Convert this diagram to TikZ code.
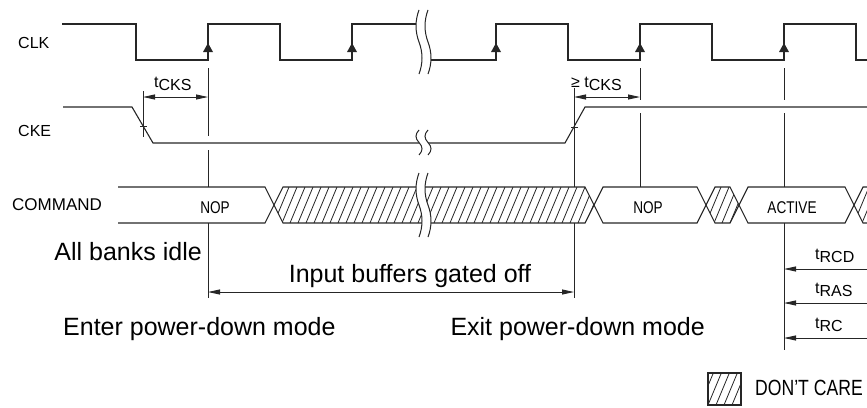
\documentclass[tikz,border=0pt]{standalone}
\usepackage{fontspec}
\setmainfont{Liberation Sans}
\newfontfamily\narrowsans[FakeStretch=0.8]{Liberation Sans}
\usetikzlibrary{arrows.meta}
\newcommand{\tpar}[1]{t\raisebox{-3pt}{#1}}

\begin{document}
\begin{tikzpicture}[x=1pt,y=-1pt,line join=miter,>={Triangle[length=12pt,width=5pt]},
  signal/.style={line width=1.1pt,color=black!85},
  guide/.style={line width=1pt,color=black!85},
  dimline/.style={line width=0.9pt,color=black!85},
  hatch/.style={line width=0.8pt,color=black!85},
  hatched/.style={path picture={
    \foreach \i in {-40,-32,...,340}
      \draw[hatch] ([xshift=\i pt]path picture bounding box.south west) -- ++(15,-36);}},
  siglabel/.style={inner sep=0pt,anchor=base west,font=\fontsize{16}{18}\selectfont},
  bustext/.style={inner sep=0pt,anchor=base,font=\narrowsans\fontsize{17}{19}\selectfont},
  tlabel/.style={inner sep=0pt,anchor=base west,font=\fontsize{16}{18}\selectfont},
  bigtext/.style={inner sep=0pt,font=\fontsize{25}{28}\selectfont}]
\useasboundingbox (0,0) rectangle (867,407);
% signal names
\node[siglabel] (clk) at (18,48) {CLK};
\node[siglabel] (cke) at (18,136) {CKE};
\node[siglabel,font=\fontsize{17}{19}\selectfont] (cmd) at (12,210) {COMMAND};
% clock
\draw[signal] (62,24) -- (136,24) -- (136,60) -- (208,60) -- (208,24) -- (280,24) -- (280,60) -- (352,60) -- (352,24) -- (424,24);
\draw[signal] (423,60) -- (496,60) -- (496,24) -- (568,24) -- (568,60) -- (640,60) -- (640,24) -- (712,24) -- (712,60) -- (784,60) -- (784,24) -- (856,24) -- (856,60) -- (867,60);
\foreach \x in {208,352,496,640,784}
  \fill[black!85] ({\x-5},52) -- ({\x+5},52) -- (\x,43) -- cycle;
% clock enable
\draw[signal] (63,107) -- (132,107) -- (153,143) -- (565,143) -- (585,107) -- (867,107);
\draw[guide] (140,126) -- (147,126);
\draw[guide] (571,127) -- (578,127);
% command bus
\draw[signal] (118,187) -- (265,187) -- (274,205) -- (265,223) -- (118,223);
\draw[signal,hatched] (274,205) -- (283,187) -- (585,187) -- (594,205) -- (585,223) -- (283,223) -- cycle;
\draw[signal] (594,205) -- (603,187) -- (697,187) -- (706,205) -- (697,223) -- (603,223) -- cycle;
\draw[signal,hatched] (706,205) -- (715,187) -- (730,187) -- (739,205) -- (730,223) -- (715,223) -- cycle;
\draw[signal] (739,205) -- (748,187) -- (845,187) -- (854,205) -- (845,223) -- (748,223) -- cycle;
\path[hatched] (854,205) -- (863,187) -- (867,187) -- (867,223) -- (863,223) -- cycle;
\draw[signal] (867,187) -- (863,187) -- (854,205) -- (863,223) -- (867,223);
\node[bustext] (nop1) at (215,213) {NOP};
\node[bustext] (nop2) at (648,213) {NOP};
\node[bustext] (act) at (792,213) {ACTIVE};
% breaks
\foreach \yt/\h in {10/64,130/25,173/64} {
  \fill[white] (419,\yt) .. controls (415,{\yt+\h/6}) and (415,{\yt+\h/3}) .. (419,{\yt+\h/2}) .. controls (423,{\yt+2*\h/3}) and (423,{\yt+5*\h/6}) .. (419,{\yt+\h}) -- (428,{\yt+\h}) .. controls (432,{\yt+5*\h/6}) and (432,{\yt+2*\h/3}) .. (428,{\yt+\h/2}) .. controls (424,{\yt+\h/3}) and (424,{\yt+\h/6}) .. (428,\yt) -- cycle;
  \foreach \xb in {419,428}
    \draw[guide] (\xb,\yt) .. controls ({\xb-4},{\yt+\h/6}) and ({\xb-4},{\yt+\h/3}) .. (\xb,{\yt+\h/2}) .. controls ({\xb+4},{\yt+2*\h/3}) and ({\xb+4},{\yt+5*\h/6}) .. (\xb,{\yt+\h});
}
% reference lines
\draw[guide] (143,91) -- (143,137);
\draw[guide] (208,68) -- (208,136) (208,150) -- (208,187) (208,223) -- (208,298);
\draw[guide] (574,88) -- (574,187) (574,223) -- (574,298);
\draw[guide] (640,68) -- (640,100) (640,113) -- (640,187);
\draw[guide] (784,68) -- (784,100) (784,113) -- (784,187) (784,223) -- (784,350);
% timing
\coordinate (cksa) at (143,97);
\coordinate (cksb) at (208,97);
\coordinate (cksc) at (574,97);
\coordinate (cksd) at (640,97);
\coordinate (offa) at (208,292);
\coordinate (offb) at (574,292);
\draw[<->,dimline] (cksa) -- (cksb);
\draw[<->,dimline] (cksc) -- (cksd);
\draw[<->,dimline] (offa) -- (offb);
\node[tlabel] (tcks) at (154,87) {\tpar{CKS}};
\node[tlabel] (tcksmin) at (571,87) {≥ \tpar{CKS}};
\foreach \y/\t in {269/RCD,303/RAS,338/RC} {
  \coordinate (\t a) at (867,\y);
  \coordinate (\t b) at (784,\y);
  \draw[<-,dimline] (\t b) -- (\t a);
  \node[tlabel] at (815,{\y-10}) {\tpar{\t}};
}
% notes
\node[bigtext,anchor=base east] (idle) at (202,260) {All banks idle};
\node[bigtext,anchor=base] (gated) at (410,282) {Input buffers gated off};
\node[bigtext,anchor=base west] (enter) at (63,335) {Enter power-down mode};
\node[bigtext,anchor=base east] (exit) at (705,335) {Exit power-down mode};
% legend
\draw[signal,hatched] (708,373) rectangle (741,405);
\node[tlabel,font=\narrowsans\fontsize{22}{24}\selectfont] (dc) at (755,395) {DON’T CARE};
\end{tikzpicture}
\end{document}
